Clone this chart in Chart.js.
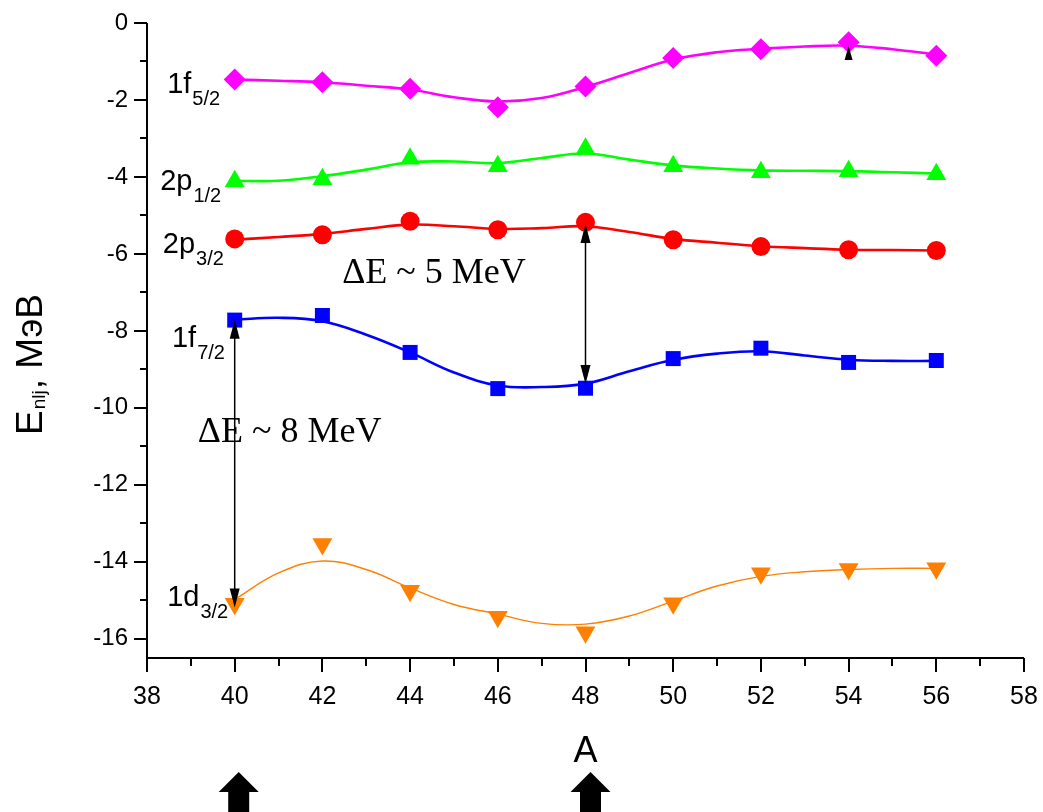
<!DOCTYPE html>
<html>
<head>
<meta charset="utf-8">
<script src="https://cdn.jsdelivr.net/npm/chart.js@4.4.1/dist/chart.umd.min.js"></script>
<style>
    html, body { margin: 0; padding: 0; background: #fff; }
    #wrap { width: 1043px; height: 812px; }
</style>
</head>
<body>
<div id="wrap"><canvas id="levelsChart" width="1043" height="812"></canvas></div>
<script>
// Mass numbers where levels were computed
const massNumbers = [40, 42, 44, 46, 48, 50, 52, 54, 56];

// Single-particle energies (MeV)
const level1f52 = [-1.47, -1.54, -1.71, -2.19, -1.65, -0.91, -0.68, -0.50, -0.85];
const level2p12 = [-4.11, -4.06, -3.53, -3.72, -3.27, -3.72, -3.88, -3.85, -3.93];
const level2p32 = [-5.61, -5.50, -5.15, -5.37, -5.18, -5.63, -5.81, -5.89, -5.91];
const level1f72 = [-7.72, -7.60, -8.56, -9.50, -9.49, -8.72, -8.45, -8.82, -8.77];
const level1d32 = [-15.09, -13.54, -14.75, -15.43, -15.83, -15.08, -14.30, -14.19, -14.17];

// Smooth fit curves, sampled at every A
const fitA = [40, 41, 42, 43, 44, 45, 46, 47, 48, 49, 50, 51, 52, 53, 54, 55, 56];
const fit1f52 = [-1.47, -1.50, -1.54, -1.63, -1.73, -1.93, -2.04, -1.95, -1.66, -1.30, -0.95, -0.76, -0.67, -0.61, -0.59, -0.68, -0.82];
const fit2p12 = [-4.10, -4.10, -3.98, -3.81, -3.62, -3.60, -3.64, -3.51, -3.39, -3.55, -3.70, -3.78, -3.83, -3.84, -3.85, -3.88, -3.91];
const fit2p32 = [-5.63, -5.56, -5.48, -5.35, -5.24, -5.28, -5.35, -5.33, -5.28, -5.43, -5.61, -5.71, -5.80, -5.85, -5.89, -5.90, -5.91];
const fit1f72 = [-7.71, -7.66, -7.75, -8.10, -8.56, -9.08, -9.42, -9.46, -9.37, -9.05, -8.75, -8.59, -8.53, -8.64, -8.75, -8.78, -8.78];
const fit1d32 = [-14.98, -14.29, -13.98, -14.20, -14.68, -15.11, -15.36, -15.60, -15.62, -15.41, -15.02, -14.63, -14.38, -14.26, -14.20, -14.17, -14.17];

// Tick labels
const xTickValues = [38, 40, 42, 44, 46, 48, 50, 52, 54, 56, 58];
const yTickValues = [0, -2, -4, -6, -8, -10, -12, -14, -16];

// Level names (main part + subscript) and where they sit, in data units
const levelLabels = [
    { main: '1f', sub: '5/2', a: 38.46, e: -1.81 },
    { main: '2p', sub: '1/2', a: 38.30, e: -4.33 },
    { main: '2p', sub: '3/2', a: 38.36, e: -5.97 },
    { main: '1f', sub: '7/2', a: 38.57, e: -8.41 },
    { main: '1d', sub: '3/2', a: 38.46, e: -15.16 }
];

const sans = "'Liberation Sans Narrow', 'Liberation Sans', Arial, sans-serif";
const serif = "'Liberation Serif', 'Times New Roman', serif";

function toPoints(xs, ys) {
    return xs.map((x, i) => ({ x: x, y: ys[i] }));
}

function markerSet(values, color, style, radius, rotation) {
    return {
        type: 'scatter',
        data: toPoints(massNumbers, values),
        showLine: false,
        pointStyle: style,
        pointRadius: radius,
        pointRotation: rotation || 0,
        backgroundColor: color,
        borderColor: color,
        borderWidth: 0,
        order: 0
    };
}

function fitLine(values, color, width) {
    return {
        type: 'line',
        data: toPoints(fitA, values),
        borderColor: color,
        borderWidth: width,
        pointRadius: 0,
        tension: 0.4,
        fill: false,
        order: 1
    };
}

function drawSubText(ctx, main, sub, x, y, mainSize, subSize, drop) {
    ctx.font = mainSize + 'px ' + sans;
    ctx.fillText(main, x, y);
    const w = ctx.measureText(main).width;
    ctx.font = subSize + 'px ' + sans;
    ctx.fillText(sub, x + w + 1, y + drop);
}

function doubleArrow(ctx, px, yTop, yBottom) {
    const head = 19, half = 5;
    ctx.beginPath();
    ctx.moveTo(px, yTop + head - 2);
    ctx.lineTo(px, yBottom - head + 2);
    ctx.stroke();
    ctx.beginPath();
    ctx.moveTo(px, yTop);
    ctx.lineTo(px - half, yTop + head);
    ctx.lineTo(px + half, yTop + head);
    ctx.closePath();
    ctx.fill();
    ctx.beginPath();
    ctx.moveTo(px, yBottom);
    ctx.lineTo(px - half, yBottom - head);
    ctx.lineTo(px + half, yBottom - head);
    ctx.closePath();
    ctx.fill();
}

function blockArrow(ctx, cx, tipY, endY) {
    ctx.beginPath();
    ctx.moveTo(cx, tipY);
    ctx.lineTo(cx + 20, tipY + 20);
    ctx.lineTo(cx + 10.5, tipY + 20);
    ctx.lineTo(cx + 10.5, endY);
    ctx.lineTo(cx - 10.5, endY);
    ctx.lineTo(cx - 10.5, tipY + 20);
    ctx.lineTo(cx - 20, tipY + 20);
    ctx.closePath();
    ctx.fill();
}

// Axes lines, ticks, labels and arrows
const decorPlugin = {
    id: 'decor',
    afterDraw(chart) {
        const ctx = chart.ctx;
        const xs = chart.scales.x, ys = chart.scales.y;
        const area = chart.chartArea;
        ctx.save();
        ctx.strokeStyle = '#000';
        ctx.fillStyle = '#000';

        // axis lines
        ctx.lineWidth = 2;
        ctx.beginPath();
        ctx.moveTo(area.left, area.top);
        ctx.lineTo(area.left, area.bottom);
        ctx.lineTo(area.right, area.bottom);
        ctx.stroke();

        // y ticks
        yTickValues.forEach(v => {
            const py = Math.round(ys.getPixelForValue(v));
            ctx.beginPath();
            ctx.moveTo(area.left - 13, py);
            ctx.lineTo(area.left, py);
            ctx.stroke();
        });
        for (let v = -1; v >= -15; v -= 2) {
            const py = Math.round(ys.getPixelForValue(v));
            ctx.beginPath();
            ctx.moveTo(area.left - 7, py);
            ctx.lineTo(area.left, py);
            ctx.stroke();
        }
        // x ticks
        xTickValues.forEach(v => {
            const px = Math.round(xs.getPixelForValue(v));
            ctx.beginPath();
            ctx.moveTo(px, area.bottom);
            ctx.lineTo(px, area.bottom + 14);
            ctx.stroke();
        });
        for (let v = 39; v <= 57; v += 2) {
            const px = Math.round(xs.getPixelForValue(v));
            ctx.beginPath();
            ctx.moveTo(px, area.bottom);
            ctx.lineTo(px, area.bottom + 8);
            ctx.stroke();
        }

        // level names
        ctx.textAlign = 'left';
        ctx.textBaseline = 'alphabetic';
        levelLabels.forEach(l => {
            drawSubText(ctx, l.main, l.sub, xs.getPixelForValue(l.a), ys.getPixelForValue(l.e), 29, 20, 12);
        });

        // energy gap notes
        ctx.font = '36px ' + serif;
        ctx.fillText('\u0394E ~ 5 MeV', xs.getPixelForValue(42.45), ys.getPixelForValue(-6.75));
        ctx.fillText('\u0394E ~ 8 MeV', xs.getPixelForValue(39.16), ys.getPixelForValue(-10.9));

        // gap arrows
        ctx.lineWidth = 1.5;
        doubleArrow(ctx, xs.getPixelForValue(48), ys.getPixelForValue(-5.22), ys.getPixelForValue(-9.38));
        doubleArrow(ctx, xs.getPixelForValue(40), ys.getPixelForValue(-7.71), ys.getPixelForValue(-15.19));

        // small arrow head under the A=54 point
        const p54 = xs.getPixelForValue(54);
        const t54 = ys.getPixelForValue(-0.6);
        ctx.beginPath();
        ctx.moveTo(p54, t54);
        ctx.lineTo(p54 - 4, t54 + 14);
        ctx.lineTo(p54 + 4, t54 + 14);
        ctx.closePath();
        ctx.fill();

        // x axis title
        ctx.textAlign = 'center';
        ctx.font = '36px ' + sans;
        ctx.fillText('A', xs.getPixelForValue(48), 762);

        // y axis title, rotated
        ctx.save();
        ctx.translate(42, 435);
        ctx.rotate(-Math.PI / 2);
        ctx.textAlign = 'left';
        ctx.font = '37px ' + sans;
        ctx.fillText('E', 0, 0);
        let w = ctx.measureText('E').width;
        ctx.font = '19px ' + sans;
        ctx.fillText('nlj', w + 1, 3);
        w += ctx.measureText('nlj').width + 2;
        ctx.font = '37px ' + sans;
        ctx.fillText(', \u041C\u044D\u0412', w, 0);
        ctx.restore();

        // big arrows marking A = 40 and A = 48
        blockArrow(ctx, xs.getPixelForValue(40) + 4, 772, 812);
        blockArrow(ctx, xs.getPixelForValue(48) + 5, 772, 812);

        ctx.restore();
    }
};

const ctx = document.getElementById('levelsChart').getContext('2d');

const levelsChart = new Chart(ctx, {
    data: {
        datasets: [
            markerSet(level1f52, '#FF00FF', 'rectRot', 11),
            markerSet(level2p12, '#00FF00', 'triangle', 11.5),
            markerSet(level2p32, '#FF0000', 'circle', 9.5),
            markerSet(level1f72, '#0000FF', 'rect', 10.6),
            markerSet(level1d32, '#FF8000', 'triangle', 11.5, 180),
            fitLine(fit1f52, '#FF00FF', 2.6),
            fitLine(fit2p12, '#00FF00', 2.6),
            fitLine(fit2p32, '#FF0000', 2.6),
            fitLine(fit1f72, '#0000FF', 2.6),
            fitLine(fit1d32, '#FF8000', 1.4)
        ]
    },
    options: {
        responsive: false,
        animation: false,
        devicePixelRatio: 1,
        layout: {
            padding: { top: 23, right: 19, left: 0, bottom: 0 }
        },
        scales: {
            x: {
                type: 'linear',
                min: 38,
                max: 58,
                afterFit: scale => { scale.height = 154; },
                afterBuildTicks: scale => { scale.ticks = xTickValues.map(v => ({ value: v })); },
                // tick marks are drawn by the plugin; tickLength only offsets the labels
                grid: { display: false, drawTicks: true, tickLength: 24 },
                border: { display: false },
                ticks: {
                    padding: 0,
                    color: '#000',
                    maxRotation: 0,
                    font: { family: sans, size: 25 }
                }
            },
            y: {
                type: 'linear',
                min: -16.5,
                max: 0,
                afterFit: scale => { scale.width = 147; },
                afterBuildTicks: scale => { scale.ticks = yTickValues.map(v => ({ value: v })); },
                grid: { display: false, drawTicks: true, tickLength: 19 },
                border: { display: false },
                ticks: {
                    padding: 0,
                    color: '#000',
                    font: { family: sans, size: 24 }
                }
            }
        },
        plugins: {
            legend: { display: false },
            tooltip: { enabled: false }
        }
    },
    plugins: [decorPlugin]
});
</script>
</body>
</html>
